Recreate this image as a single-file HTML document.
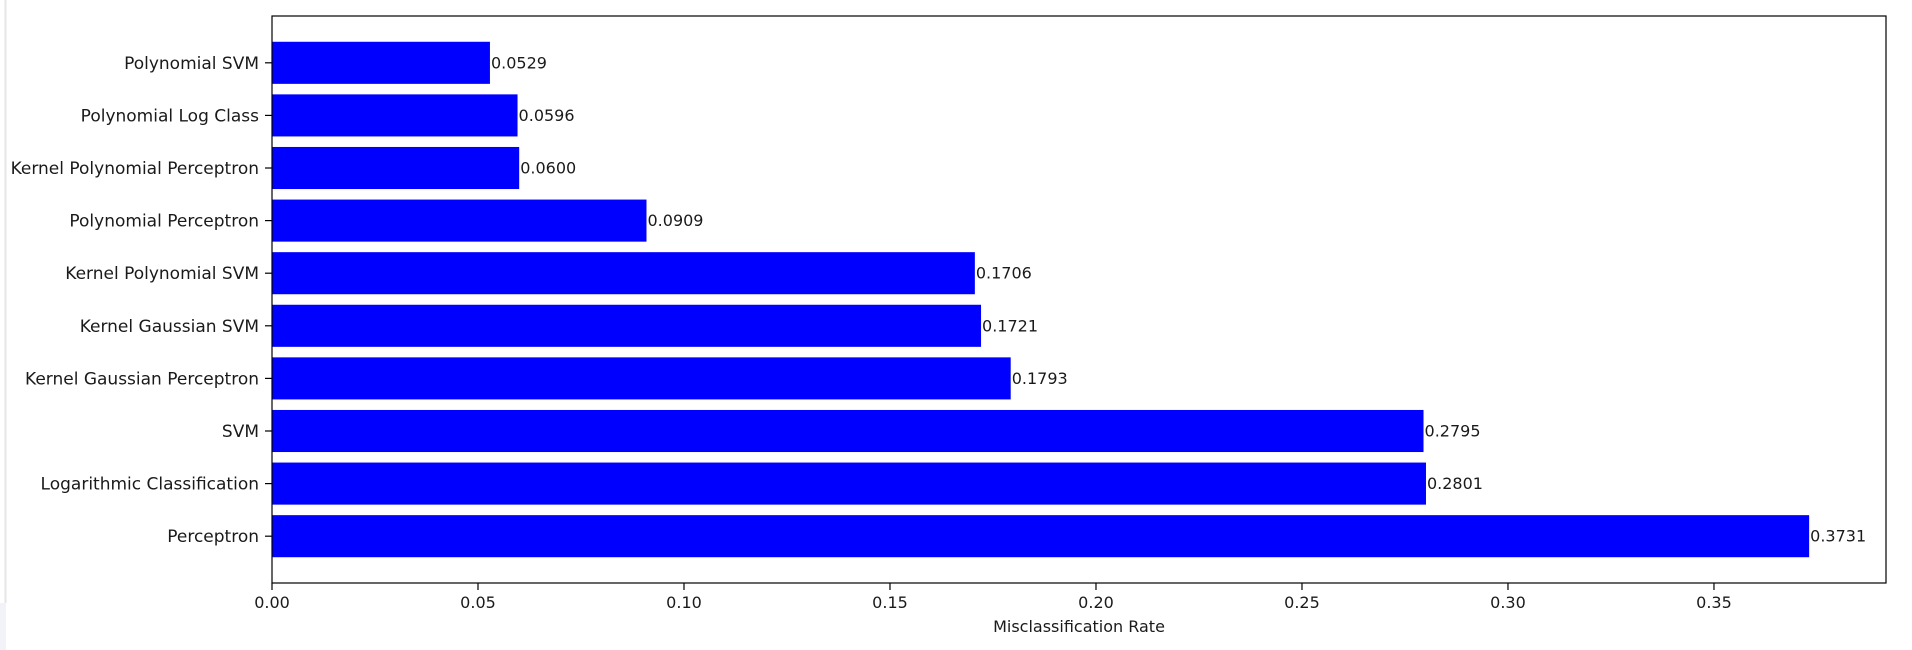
<!DOCTYPE html>
<html><head><meta charset="utf-8">
<style>
html,body{margin:0;padding:0;background:#fff;}
svg{display:block;}
text{font-family:"DejaVu Sans","Liberation Sans",sans-serif;font-size:16px;fill:#1a1a1a;}
text.ylab{font-size:17px;}
</style></head>
<body>
<svg id="chart" width="1912" height="650" viewBox="0 0 1912 650" xmlns="http://www.w3.org/2000/svg">
<rect x="0" y="0" width="1912" height="650" fill="#fff"/>
<line x1="5.5" y1="0" x2="5.5" y2="603" stroke="#e6e6ea" stroke-width="2"/>
<rect x="0" y="603" width="6" height="47" fill="#f2f3f8"/>
<g id="plot"></g>
</svg>
<script>
const categories = ["Perceptron","Logarithmic Classification","SVM","Kernel Gaussian Perceptron","Kernel Gaussian SVM","Kernel Polynomial SVM","Polynomial Perceptron","Kernel Polynomial Perceptron","Polynomial Log Class","Polynomial SVM"];
const values = [0.3731,0.2801,0.2795,0.1793,0.1721,0.1706,0.0909,0.0600,0.0596,0.0529];
const xTicks = [0,0.05,0.10,0.15,0.20,0.25,0.30,0.35];
const xTickLabels = ["0.00","0.05","0.10","0.15","0.20","0.25","0.30","0.35"];

const NS="http://www.w3.org/2000/svg";
const g=document.getElementById('plot');
const L=272,R=1886,T=16,B=583;
const xmax=Math.max(...values)*1.05;
const x=v=>L+(v/xmax)*(R-L);
const n=categories.length;
const dLo=-0.4, dHi=n-1+0.4, span=dHi-dLo;
const y0=dLo-0.05*span, y1=dHi+0.05*span;
const y=i=>B-(i-y0)/(y1-y0)*(B-T);
function mk(tag,attrs){const e=document.createElementNS(NS,tag);for(const k in attrs)e.setAttribute(k,attrs[k]);g.appendChild(e);return e;}

categories.forEach((c,i)=>{
  const yc=y(i), h=(y(i-0.4)-y(i+0.4));
  const r=mk('rect',{x:L,y:yc-h/2,width:x(values[i])-L,height:h,fill:'#0000ff'});
  
  
  const t=mk('text',{x:x(values[i])+1,y:yc+5.5});
  t.textContent=values[i].toFixed(4);
  
  
  const tk=mk('line',{x1:L-7,x2:L,y1:yc,y2:yc,stroke:'#000','stroke-width':1.2});
  
  
  const yl=mk('text',{x:L-13,y:yc+6,'text-anchor':'end','class':'ylab'});
  yl.textContent=c;
  
  
});
xTicks.forEach((v,i)=>{
  const tk=mk('line',{x1:x(v),x2:x(v),y1:B,y2:B+7,stroke:'#000','stroke-width':1.2});
  
  
  const tl=mk('text',{x:x(v),y:608,'text-anchor':'middle'});
  tl.textContent=xTickLabels[i];
  
  
});
const fr=mk('rect',{x:L,y:T,width:R-L,height:B-T,fill:'none',stroke:'#000','stroke-width':1.2});


const xt=mk('text',{x:(L+R)/2,y:632,'text-anchor':'middle'});
xt.textContent='Misclassification Rate';


</script>
</body></html>
